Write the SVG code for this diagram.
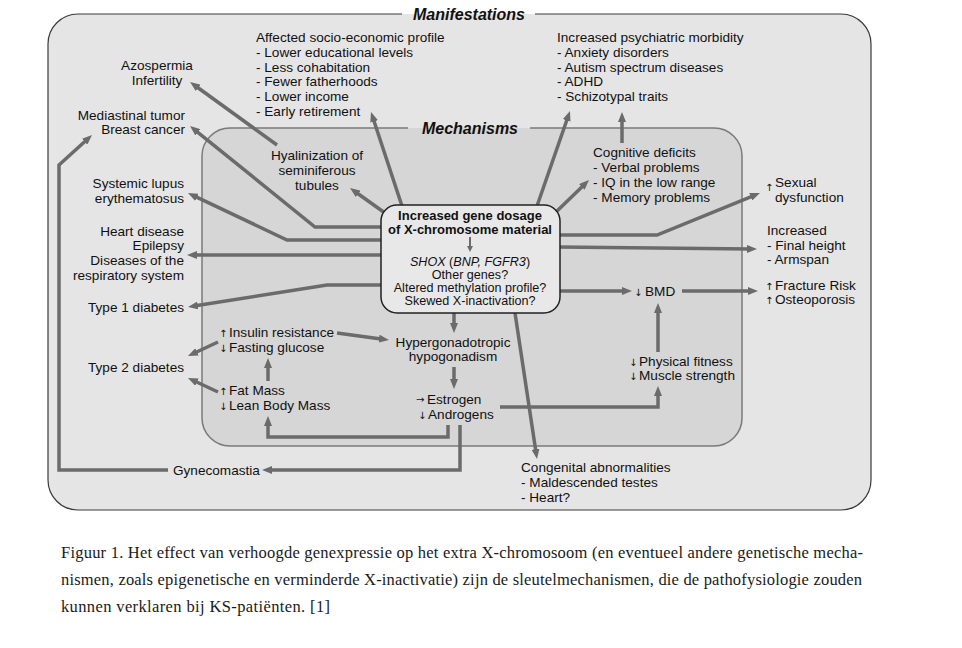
<svg xmlns="http://www.w3.org/2000/svg" width="962" height="648" viewBox="0 0 962 648">
<defs>
<style>
.t{font-family:"Liberation Sans",Arial,sans-serif;font-size:13.6px;fill:#111}
.k{font-size:13px}
.s{font-size:12.6px}
.b{font-weight:bold}
.ttl{font-family:"Liberation Sans",Arial,sans-serif;font-size:16px;font-weight:bold;font-style:italic;fill:#111}
.ar{font-family:"DejaVu Sans",sans-serif;font-size:10px;fill:#111}
.c{fill:none;stroke:#6b6b6b;stroke-width:3.5;stroke-linejoin:miter}
.cap{font-family:"Liberation Serif","Times New Roman",serif;font-size:16.5px;fill:#1a1a1a}
</style>
<marker id="ah" markerUnits="userSpaceOnUse" markerWidth="10" markerHeight="8" refX="4" refY="4" orient="auto">
<path d="M0,0 L10,4 L0,8 z" fill="#6b6b6b"/>
</marker>
<marker id="ahs" markerUnits="userSpaceOnUse" markerWidth="6" markerHeight="6" refX="2" refY="3" orient="auto">
<path d="M0,0 L6,3 L0,6 z" fill="#6b6b6b"/>
</marker>
</defs>
<rect width="962" height="648" fill="#fff"/>
<g id="manifestations-frame">
<rect x="48" y="14" width="823" height="496" rx="30" fill="#e5e5e5" stroke="#3a3a3a" stroke-width="1.2"/>
<rect x="402" y="4" width="133" height="10" fill="#fff"/>
<rect x="402" y="14" width="133" height="10" fill="#e5e5e5"/>
<text class="ttl" x="469" y="20" text-anchor="middle">Manifestations</text>
</g>
<g id="mechanisms-frame">
<rect x="202" y="128" width="540" height="318" rx="28" fill="#d6d6d6" stroke="#7a7a7a" stroke-width="1.5"/>
<rect x="408" y="119" width="122" height="9" fill="#e5e5e5"/>
<rect x="408" y="128" width="122" height="10" fill="#d6d6d6"/>
<text class="ttl" x="470" y="134" text-anchor="middle">Mechanisms</text>
</g>
<g id="connectors">
<polyline class="c" points="277,145 194.9,85.5" marker-end="url(#ah)"/>
<polyline class="c" points="383,227 315,227 194.7,129.8" marker-end="url(#ah)"/>
<polyline class="c" points="383,240 287,240 193.4,195.6" marker-end="url(#ah)"/>
<polyline class="c" points="383,255 193,255" marker-end="url(#ah)"/>
<polyline class="c" points="383,285 327,285 193.9,306.1" marker-end="url(#ah)"/>
<polyline class="c" points="385,213 354.9,191.5" marker-end="url(#ah)"/>
<polyline class="c" points="402,206 372.9,117.7" marker-end="url(#ah)"/>
<polyline class="c" points="537,206 568,116.7" marker-end="url(#ah)"/>
<polyline class="c" points="622,143 622,118" marker-end="url(#ah)"/>
<polyline class="c" points="556,212 584.7,184.2" marker-end="url(#ah)"/>
<polyline class="c" points="558,235 657,235 754.4,195.3" marker-end="url(#ah)"/>
<polyline class="c" points="558,247 751,249" marker-end="url(#ah)"/>
<polyline class="c" points="558,291 626,291" marker-end="url(#ah)"/>
<polyline class="c" points="682,291 752,291" marker-end="url(#ah)"/>
<polyline class="c" points="658,352 658,309" marker-end="url(#ah)"/>
<polyline class="c" points="500,407 658,407 658,392" marker-end="url(#ah)"/>
<polyline class="c" points="454,313 454,327" marker-end="url(#ah)"/>
<polyline class="c" points="454,367 454,383" marker-end="url(#ah)"/>
<polyline class="c" points="337,333 383,339.2" marker-end="url(#ah)"/>
<polyline class="c" points="515,313 536.1,453.1" marker-end="url(#ah)"/>
<polyline class="c" points="218,342 193.4,353.5" marker-end="url(#ah)"/>
<polyline class="c" points="218,392 193.4,380.5" marker-end="url(#ah)"/>
<polyline class="c" points="268,381 268,364" marker-end="url(#ah)"/>
<polyline class="c" points="448,425 448,437 268,437 268,422" marker-end="url(#ah)"/>
<polyline class="c" points="460,425 460,470 268,470" marker-end="url(#ah)"/>
<polyline class="c" points="168,470 59,470 59,165 87.6,139" marker-end="url(#ah)"/>
</g>
<g id="central">
<rect x="381" y="205" width="179" height="108" rx="16" fill="#e8e8e8" stroke="#222" stroke-width="1.5"/>
<text class="t k b" x="470" y="220" text-anchor="middle">Increased gene dosage</text>
<text class="t k b" x="470" y="234" text-anchor="middle">of X-chromosome material</text>
<line x1="470" y1="237" x2="470" y2="248" stroke="#6b6b6b" stroke-width="2" marker-end="url(#ahs)"/>
<text class="t s" x="470" y="266" text-anchor="middle"><tspan font-style="italic">SHOX</tspan> (<tspan font-style="italic">BNP, FGFR3</tspan>)</text>
<text class="t s" x="470" y="279" text-anchor="middle">Other genes?</text>
<text class="t s" x="470" y="292" text-anchor="middle">Altered methylation profile?</text>
<text class="t s" x="470" y="305" text-anchor="middle">Skewed X-inactivation?</text>
</g>
<g id="socio">
<text class="t" x="256" y="42">Affected socio-economic profile</text>
<text class="t" x="256" y="57">- Lower educational levels</text>
<text class="t" x="256" y="72">- Less cohabitation</text>
<text class="t" x="256" y="86">- Fewer fatherhoods</text>
<text class="t" x="256" y="101">- Lower income</text>
<text class="t" x="256" y="116">- Early retirement</text>
</g>
<g id="psych">
<text class="t" x="557" y="42">Increased psychiatric morbidity</text>
<text class="t" x="557" y="57">- Anxiety disorders</text>
<text class="t" x="557" y="72">- Autism spectrum diseases</text>
<text class="t" x="557" y="86">- ADHD</text>
<text class="t" x="557" y="101">- Schizotypal traits</text>
</g>
<g id="azo">
<text class="t" x="157" y="70" text-anchor="middle">Azospermia</text>
<text class="t" x="157" y="85" text-anchor="middle">Infertility</text>
</g>
<g id="mediastinal">
<text class="t" x="185" y="120" text-anchor="end">Mediastinal tumor</text>
<text class="t" x="185" y="134" text-anchor="end">Breast cancer</text>
</g>
<g id="hyalinization">
<text class="t" x="317" y="160" text-anchor="middle">Hyalinization of</text>
<text class="t" x="317" y="175" text-anchor="middle">seminiferous</text>
<text class="t" x="317" y="190" text-anchor="middle">tubules</text>
</g>
<g id="cognitive">
<text class="t" x="593" y="157">Cognitive deficits</text>
<text class="t" x="593" y="172">- Verbal problems</text>
<text class="t" x="593" y="187">- IQ in the low range</text>
<text class="t" x="593" y="202">- Memory problems</text>
</g>
<g id="lupus">
<text class="t" x="184" y="188" text-anchor="end">Systemic lupus</text>
<text class="t" x="184" y="203" text-anchor="end">erythematosus</text>
</g>
<g id="heart">
<text class="t" x="184" y="236" text-anchor="end">Heart disease</text>
<text class="t" x="184" y="250" text-anchor="end">Epilepsy</text>
<text class="t" x="184" y="265" text-anchor="end">Diseases of the</text>
<text class="t" x="184" y="280" text-anchor="end">respiratory system</text>
</g>
<g id="type1">
<text class="t" x="184" y="312" text-anchor="end">Type 1 diabetes</text>
</g>
<g id="sexual">
<text class="ar" x="765" y="191">↑</text>
<text class="t" x="775" y="187">Sexual</text>
<text class="t" x="775" y="202">dysfunction</text>
</g>
<g id="height">
<text class="t" x="767" y="235">Increased</text>
<text class="t" x="767" y="250">- Final height</text>
<text class="t" x="767" y="264">- Armspan</text>
</g>
<g id="fracture">
<text class="ar" x="765" y="290">↑</text>
<text class="t" x="775" y="290">Fracture Risk</text>
<text class="ar" x="765" y="304">↑</text>
<text class="t" x="775" y="304">Osteoporosis</text>
</g>
<g id="bmd">
<text class="ar" x="634" y="296">↓</text>
<text class="t" x="645" y="296">BMD</text>
</g>
<g id="insulin">
<text class="ar" x="219" y="337">↑</text>
<text class="t" x="229" y="337">Insulin resistance</text>
<text class="ar" x="219" y="352">↓</text>
<text class="t" x="229" y="352">Fasting glucose</text>
</g>
<g id="fatmass">
<text class="ar" x="219" y="395">↑</text>
<text class="t" x="229" y="395">Fat Mass</text>
<text class="ar" x="219" y="410">↓</text>
<text class="t" x="229" y="410">Lean Body Mass</text>
</g>
<g id="type2">
<text class="t" x="184" y="372" text-anchor="end">Type 2 diabetes</text>
</g>
<g id="hypergonadotropic">
<text class="t" x="453" y="347" text-anchor="middle">Hypergonadotropic</text>
<text class="t" x="453" y="361" text-anchor="middle">hypogonadism</text>
</g>
<g id="hormones">
<text class="ar" x="416" y="403">→</text>
<text class="t" x="427" y="404">Estrogen</text>
<text class="ar" x="418" y="419">↓</text>
<text class="t" x="428" y="419">Androgens</text>
</g>
<g id="physical">
<text class="ar" x="629" y="366">↓</text>
<text class="t" x="639" y="366">Physical fitness</text>
<text class="ar" x="629" y="380">↓</text>
<text class="t" x="639" y="380">Muscle strength</text>
</g>
<g id="gynecomastia">
<text class="t" x="173" y="475">Gynecomastia</text>
</g>
<g id="congenital">
<text class="t" x="521" y="472">Congenital abnormalities</text>
<text class="t" x="521" y="487">- Maldescended testes</text>
<text class="t" x="521" y="502">- Heart?</text>
</g>
<g id="caption">
<text class="cap" x="61" y="558" textLength="802" lengthAdjust="spacing">Figuur 1. Het effect van verhoogde genexpressie op het extra X-chromosoom (en eventueel andere genetische mecha-</text>
<text class="cap" x="61" y="585" textLength="801" lengthAdjust="spacing">nismen, zoals epigenetische en verminderde X-inactivatie) zijn de sleutelmechanismen, die de pathofysiologie zouden</text>
<text class="cap" x="61" y="612" textLength="269" lengthAdjust="spacing">kunnen verklaren bij KS-patiënten. [1]</text>
</g>
</svg>
